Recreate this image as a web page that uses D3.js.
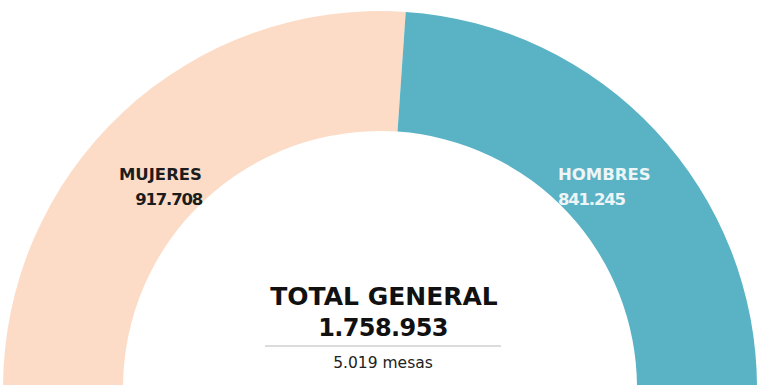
<!DOCTYPE html>
<html>
<head>
<meta charset="utf-8">
<script src="https://cdn.jsdelivr.net/npm/d3@7"></script>
<style>
  body { margin: 0; background: #fff; }
  svg { display: block; }
</style>
</head>
<body>
<svg width="760" height="385"></svg>
<script>
// data
const categories = ["MUJERES", "HOMBRES"];
const values = [917708, 841245];
const colors = ["#fddcc7", "#5ab2c5"];
const labelColors = ["#1c1c1c", "#eef5f7"];
const totalLabel = "TOTAL GENERAL";
const mesasCount = 5019;

const fmt = d3.formatLocale({decimal: ",", thousands: ".", grouping: [3], currency: ["", ""]}).format(",");

const svg = d3.select("svg");
const cx = 380, cy = 388;
const outerR = 377, innerR = 257;

const g = svg.append("g").attr("transform", "translate(" + cx + "," + cy + ")");

const pie = d3.pie()
    .sort(null)
    .startAngle(-Math.PI / 2)
    .endAngle(Math.PI / 2);

const arc = d3.arc().innerRadius(innerR).outerRadius(outerR);

const data = pie(values);

g.selectAll(".slice")
    .data(data)
    .enter().append("path")
    .attr("class", "slice")
    .attr("fill", (d, i) => colors[i])
    .attr("d", arc);

// slice labels
const labelPos = [{x: 202, anchor: "end"}, {x: 558, anchor: "start"}];
categories.forEach((c, i) => {
    const t = svg.append("text")
        .attr("x", labelPos[i].x)
        .attr("text-anchor", labelPos[i].anchor)
        .attr("font-family", "DejaVu Sans")
        .attr("font-weight", "bold")
        .attr("font-size", 16.5)
        .attr("fill", labelColors[i]);
    t.append("tspan").attr("x", labelPos[i].x).attr("y", 180).text(c);
    t.append("tspan").attr("x", labelPos[i].x).attr("y", 205)
        .attr("letter-spacing", -1.2)
        .text(fmt(values[i]));
});

// centre total
svg.append("text")
    .attr("x", 384).attr("y", 305)
    .attr("text-anchor", "middle")
    .attr("font-family", "DejaVu Sans")
    .attr("font-weight", "bold")
    .attr("font-size", 25)
    .attr("fill", "#111")
    .text(totalLabel);

svg.append("text")
    .attr("x", 383).attr("y", 336)
    .attr("text-anchor", "middle")
    .attr("font-family", "DejaVu Sans")
    .attr("font-weight", "bold")
    .attr("font-size", 24)
    .attr("letter-spacing", -0.6)
    .attr("fill", "#111")
    .text(fmt(d3.sum(values)));

svg.append("line")
    .attr("x1", 265).attr("x2", 501)
    .attr("y1", 346).attr("y2", 346)
    .attr("stroke", "#b8b8b8")
    .attr("stroke-width", 1);

svg.append("text")
    .attr("x", 383).attr("y", 368)
    .attr("text-anchor", "middle")
    .attr("font-family", "DejaVu Sans")
    .attr("font-size", 15.5)
    .attr("fill", "#222")
    .text(fmt(mesasCount) + " mesas");
</script>
</body>
</html>
